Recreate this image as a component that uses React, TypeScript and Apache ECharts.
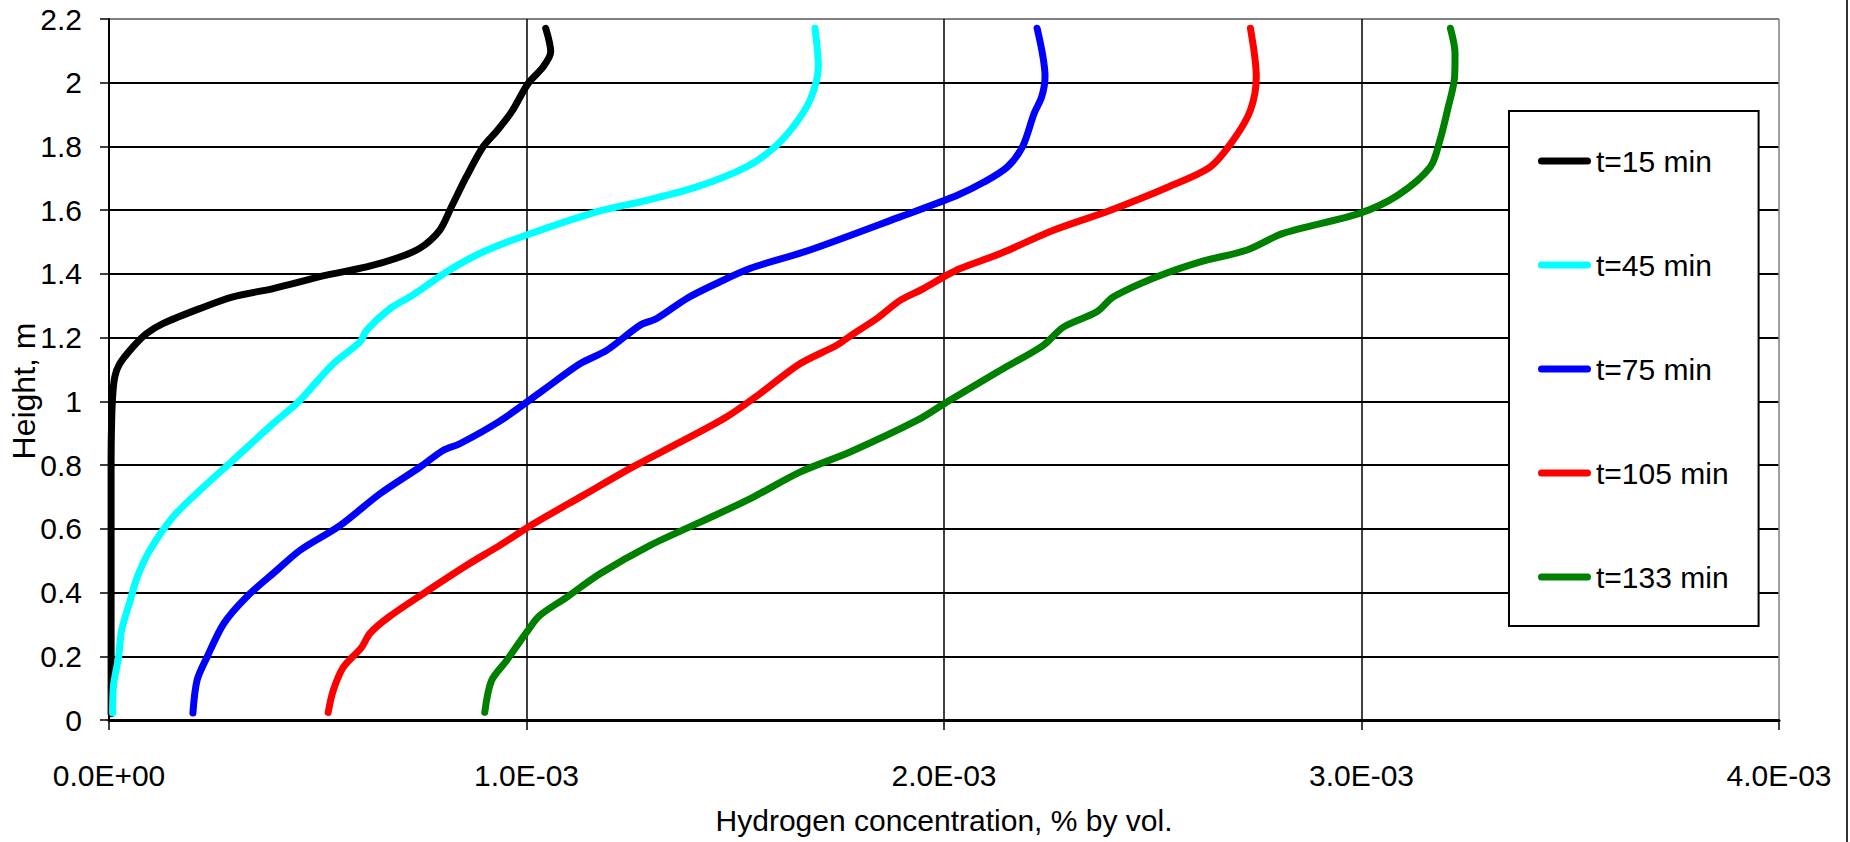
import React, { useEffect, useRef } from "react";
import * as echarts from "echarts";

// Height (m) vs hydrogen concentration (% by vol.) profiles: [concentration, height]
const t15: [number, number][] = [
  [0.005e-3, 0.02], [0.005e-3, 0.4], [0.005e-3, 0.79], [0.0057e-3, 0.898], [0.0081e-3, 1.003],
  [0.0137e-3, 1.076], [0.0256e-3, 1.118], [0.0575e-3, 1.171], [0.09e-3, 1.213], [0.129e-3, 1.244],
  [0.217e-3, 1.291], [0.297e-3, 1.328], [0.393e-3, 1.354], [0.521e-3, 1.396], [0.617e-3, 1.422],
  [0.69e-3, 1.45], [0.744e-3, 1.48], [0.792e-3, 1.537], [0.82e-3, 1.61], [0.856e-3, 1.705],
  [0.896e-3, 1.799], [0.93e-3, 1.85], [0.965e-3, 1.91], [1.004e-3, 1.998], [1.04e-3, 2.05],
  [1.058e-3, 2.097], [1.046e-3, 2.171],
];
const t45: [number, number][] = [
  [0.0085e-3, 0.022], [0.011e-3, 0.111], [0.023e-3, 0.198], [0.03e-3, 0.28], [0.051e-3, 0.376],
  [0.068e-3, 0.45], [0.0975e-3, 0.532], [0.153e-3, 0.637], [0.217e-3, 0.72], [0.297e-3, 0.815],
  [0.393e-3, 0.93], [0.457e-3, 1.003], [0.537e-3, 1.118], [0.601e-3, 1.186], [0.617e-3, 1.223],
  [0.673e-3, 1.291], [0.721e-3, 1.328], [0.745e-3, 1.349], [0.808e-3, 1.406], [0.888e-3, 1.464],
  [1.0e-3, 1.522], [1.168e-3, 1.595], [1.288e-3, 1.631], [1.408e-3, 1.673], [1.527e-3, 1.736],
  [1.591e-3, 1.794], [1.639e-3, 1.862], [1.679e-3, 1.945], [1.699e-3, 2.05], [1.691e-3, 2.171],
];
const t75: [number, number][] = [
  [0.201e-3, 0.022], [0.211e-3, 0.125], [0.235e-3, 0.198], [0.275e-3, 0.303], [0.33e-3, 0.387],
  [0.402e-3, 0.47], [0.457e-3, 0.532], [0.553e-3, 0.61], [0.649e-3, 0.71], [0.745e-3, 0.794],
  [0.8e-3, 0.846], [0.84e-3, 0.867], [0.936e-3, 0.938], [1.04e-3, 1.035], [1.128e-3, 1.118],
  [1.192e-3, 1.16], [1.272e-3, 1.239], [1.312e-3, 1.26], [1.384e-3, 1.323], [1.455e-3, 1.37],
  [1.535e-3, 1.417], [1.679e-3, 1.475], [1.895e-3, 1.579], [2.032e-3, 1.647], [2.097e-3, 1.689],
  [2.152e-3, 1.736], [2.188e-3, 1.799], [2.216e-3, 1.904], [2.234e-3, 1.956], [2.242e-3, 2.019],
  [2.223e-3, 2.171],
];
const t105: [number, number][] = [
  [0.525e-3, 0.024], [0.537e-3, 0.092], [0.561e-3, 0.165], [0.605e-3, 0.228], [0.625e-3, 0.272],
  [0.669e-3, 0.322], [0.752e-3, 0.396], [0.856e-3, 0.485], [0.936e-3, 0.548], [1.016e-3, 0.615],
  [1.136e-3, 0.705], [1.256e-3, 0.795], [1.368e-3, 0.872], [1.479e-3, 0.951], [1.559e-3, 1.024],
  [1.655e-3, 1.118], [1.743e-3, 1.176], [1.775e-3, 1.205], [1.839e-3, 1.26], [1.895e-3, 1.317],
  [1.951e-3, 1.354], [2.007e-3, 1.396], [2.039e-3, 1.417], [2.135e-3, 1.464], [2.262e-3, 1.537],
  [2.399e-3, 1.6], [2.537e-3, 1.673], [2.638e-3, 1.736], [2.693e-3, 1.82], [2.734e-3, 1.914],
  [2.748e-3, 2.019], [2.734e-3, 2.171],
];
const t133: [number, number][] = [
  [0.9e-3, 0.024], [0.916e-3, 0.123], [0.952e-3, 0.186], [1.0e-3, 0.275], [1.032e-3, 0.328],
  [1.096e-3, 0.385], [1.176e-3, 0.459], [1.296e-3, 0.548], [1.416e-3, 0.621], [1.535e-3, 0.694],
  [1.655e-3, 0.778], [1.775e-3, 0.841], [1.935e-3, 0.94], [2.007e-3, 0.998], [2.134e-3, 1.097],
  [2.238e-3, 1.176], [2.286e-3, 1.233], [2.366e-3, 1.281], [2.406e-3, 1.328], [2.51e-3, 1.391],
  [2.614e-3, 1.438], [2.726e-3, 1.475], [2.812e-3, 1.527], [2.995e-3, 1.59], [3.087e-3, 1.647],
  [3.165e-3, 1.736], [3.188e-3, 1.82], [3.206e-3, 1.914], [3.223e-3, 2.019], [3.224e-3, 2.092],
  [3.213e-3, 2.171],
];

const seriesNames = ["t=15 min", "t=45 min", "t=75 min", "t=105 min", "t=133 min"];
const seriesColors = ["#000000", "#00FFFF", "#0000FF", "#FF0000", "#008000"];
const seriesData = [t15, t45, t75, t105, t133];

const xAxisTitle = "Hydrogen concentration, % by vol.";
const yAxisTitle = "Height, m";

const FONT = "'Liberation Sans', Arial, sans-serif";
const LEGEND_ICON = "path://M3.5,0 L49.5,0 A3.5,3.5 0 0 1 49.5,7 L3.5,7 A3.5,3.5 0 0 1 3.5,0 Z";

function sci(v: number): string {
  if (Math.abs(v) < 1e-12) return "0.0E+00";
  const e = Math.floor(Math.log10(Math.abs(v)) + 1e-9);
  const m = v / Math.pow(10, e);
  return m.toFixed(1) + "E" + (e < 0 ? "-" : "+") + String(Math.abs(e)).padStart(2, "0");
}

export default function App() {
  const ref = useRef<HTMLDivElement>(null);
  useEffect(() => {
    if (!ref.current) return;
    const chart = echarts.init(ref.current, null, { renderer: "svg" });
    const ySplitColors = Array.from({ length: 12 }, (_, i) => (i === 11 ? "#808080" : "#000000"));
    const xSplitColors = ["#000000", "#000000", "#000000", "#000000", "#808080"];
    chart.setOption({
      animation: false,
      backgroundColor: "#ffffff",
      textStyle: { fontFamily: FONT },
      grid: { left: 109, right: 71, top: 19, bottom: 122, containLabel: false },
      legend: {
        orient: "vertical",
        left: 1509,
        top: 111,
        data: seriesNames,
        icon: LEGEND_ICON,
        itemWidth: 53,
        itemHeight: 30,
        itemGap: 74,
        padding: [35, 30, 34, 29],
        borderColor: "#000000",
        borderWidth: 2,
        backgroundColor: "#ffffff",
        textStyle: { fontSize: 30, color: "#000", fontFamily: FONT },
        selectedMode: false,
      },
      xAxis: {
        type: "value",
        min: 0,
        max: 4e-3,
        interval: 1e-3,
        axisLine: { show: true, onZero: false, lineStyle: { color: "#000", width: 3 } },
        axisTick: { show: true, length: 10, lineStyle: { color: "#000", width: 1.5 } },
        axisLabel: { formatter: sci, fontSize: 30, color: "#000", margin: 40, fontFamily: FONT },
        splitLine: { show: true, lineStyle: { color: xSplitColors, width: 1.5 } },
      },
      yAxis: {
        type: "value",
        min: 0,
        max: 2.2,
        interval: 0.2,
        axisLine: { show: true, onZero: false, lineStyle: { color: "#000", width: 2 } },
        axisTick: { show: true, length: 9, lineStyle: { color: "#000", width: 1.5 } },
        axisLabel: {
          formatter: (v: number) => String(Math.round(v * 10) / 10),
          fontSize: 30,
          color: "#000",
          margin: 27,
          fontFamily: FONT,
        },
        splitLine: { show: true, lineStyle: { color: ySplitColors, width: 2 } },
      },
      graphic: [
        {
          type: "text",
          x: 944,
          y: 820,
          style: {
            text: xAxisTitle,
            fontSize: 30,
            fontFamily: FONT,
            fill: "#000",
            align: "center",
            verticalAlign: "middle",
          },
        },
        {
          type: "text",
          x: 24,
          y: 391,
          rotation: Math.PI / 2,
          style: {
            text: yAxisTitle,
            fontSize: 32,
            fontFamily: FONT,
            fill: "#000",
            align: "center",
            verticalAlign: "middle",
          },
        },
        {
          type: "line",
          shape: { x1: 1847, y1: 0, x2: 1847, y2: 842 },
          style: { stroke: "#333", lineWidth: 2 },
        },
      ],
      series: seriesData.map((d, i) => ({
        name: seriesNames[i],
        type: "line",
        data: d,
        showSymbol: false,
        symbol: "none",
        smooth: 0.3,
        color: seriesColors[i],
        itemStyle: { color: seriesColors[i] },
        lineStyle: { color: seriesColors[i], width: 7, cap: "round", join: "round" },
        z: 3,
      })),
    });
    return () => chart.dispose();
  }, []);
  return (
    <div
      ref={ref}
      style={{ position: "fixed", left: 0, top: 0, width: 1850, height: 842, background: "#fff" }}
    />
  );
}
